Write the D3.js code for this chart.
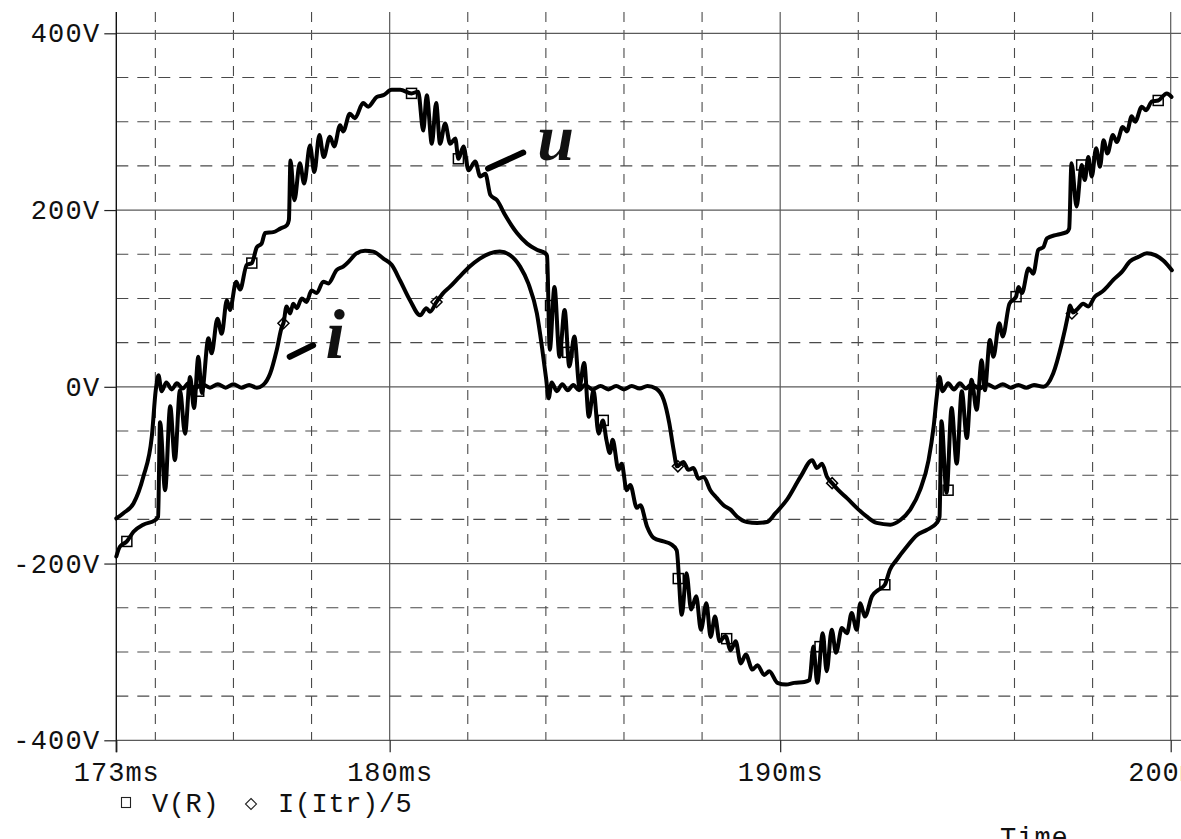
<!DOCTYPE html>
<html>
<head>
<meta charset="utf-8">
<script src="https://cdn.jsdelivr.net/npm/d3@7"></script>
<style>
  html, body { margin: 0; padding: 0; background: #fff; }
  svg { display: block; }
  text { font-family: "Liberation Mono", "DejaVu Sans Mono", monospace; fill: #111; }
</style>
</head>
<body>
<svg id="chart" width="1181" height="839"></svg>
<script>
// Transient simulation: resistor voltage and scaled thyristor current (t in ms)
const vR = [
  [173.00,-192],[173.09,-181],[173.27,-175],[173.44,-164],[173.69,-156],[173.99,-151],[174.07,-147],
  [174.12,-40],[174.25,-117],[174.38,-22],[174.50,-83],[174.63,-4],[174.76,-53],[174.89,11],
  [174.99,-24],[175.10,34],[175.19,-7],[175.36,55],[175.44,38],[175.59,77],[175.70,60],[175.83,98],
  [175.91,87],[176.07,119],[176.17,110],[176.34,138],[176.47,140],[176.60,158],[176.72,162],
  [176.81,174],[177.02,175],[177.20,179],[177.37,183],[177.42,189],
  [177.46,256],[177.56,211],[177.70,253],[177.81,230],[177.96,273],[178.07,243],[178.20,285],
  [178.31,260],[178.47,283],[178.58,272],[178.73,296],[178.81,289],[178.98,309],[179.11,304],
  [179.32,321],[179.45,317],[179.67,328],[179.84,330],[180.05,336],[180.27,336],[180.56,332],
  [180.73,334],[180.86,290],[180.95,330],[181.08,275],[181.19,321],[181.29,275],[181.42,298],
  [181.55,275],[181.68,281],[181.76,258],[181.89,272],[182.02,245],[182.19,255],[182.32,238],
  [182.45,241],[182.58,217],[182.75,211],[182.96,194],[183.26,174],[183.52,162],[183.77,155],
  [183.99,151],[184.03,148],
  [184.10,42],[184.22,113],[184.35,34],[184.48,87],[184.60,23],[184.73,57],[184.86,0],[184.98,27],
  [185.10,-34],[185.22,-4],[185.35,-53],[185.46,-38],[185.55,-60],[185.64,-75],[185.71,-60],
  [185.86,-94],[185.94,-87],[186.07,-117],[186.16,-111],[186.33,-137],[186.42,-134],[186.59,-158],
  [186.76,-171],[187.01,-175],[187.20,-178],[187.35,-185],
  [187.48,-258],[187.60,-211],[187.72,-252],[187.85,-237],[187.97,-275],[188.11,-245],[188.22,-283],
  [188.33,-260],[188.45,-288],[188.60,-282],[188.73,-298],[188.86,-288],[188.99,-313],[189.12,-303],
  [189.29,-320],[189.42,-315],[189.59,-326],[189.72,-322],[189.93,-335],[190.15,-337],[190.36,-335],
  [190.62,-334],[190.75,-332],[190.85,-294],[190.95,-335],[191.09,-279],[191.19,-322],[191.32,-275],
  [191.43,-301],[191.58,-273],[191.71,-279],[191.83,-256],[191.96,-275],[192.05,-245],[192.17,-260],
  [192.35,-237],[192.51,-230],[192.68,-224],[192.81,-207],[192.98,-196],[193.24,-181],[193.50,-168],
  [193.75,-162],[194.01,-154],[194.08,-147],
  [194.13,-39],[194.26,-120],[194.39,-24],[194.52,-87],[194.65,-5],[194.78,-58],[194.90,8],
  [195.03,-26],[195.16,30],[195.24,-4],[195.37,53],[195.46,34],[195.61,72],[195.70,57],[195.87,94],
  [196.04,102],[196.10,113],[196.19,106],[196.36,134],[196.48,128],[196.61,155],[196.74,158],
  [196.83,168],[197.08,172],[197.34,175],[197.40,179],
  [197.46,253],[197.59,204],[197.72,251],[197.80,234],[197.89,260],[197.98,238],[198.09,270],
  [198.19,249],[198.28,279],[198.38,264],[198.52,285],[198.62,277],[198.77,294],[198.88,289],
  [199.00,306],[199.09,300],[199.26,317],[199.37,313],[199.52,323],[199.68,324],[199.90,332],
  [200.02,328]
];

const iItr = [
  [173.00,-149],[173.18,-143],[173.44,-132],[173.69,-102],[173.91,-56],[174.01,-4],[174.08,13],
  [174.16,-5],[174.28,5],[174.42,-3],[174.55,4],[174.70,-2],[174.85,4],[175.00,-2],[175.20,3],
  [175.40,-1],[175.60,3],[175.80,-1],[176.00,3],[176.20,-1],[176.40,2],[176.60,-1],[176.76,2],
  [176.94,15],[177.11,42],[177.24,68],[177.28,72],[177.36,91],[177.45,83],[177.53,94],[177.62,89],
  [177.75,100],[177.87,96],[178.00,109],[178.13,106],[178.30,119],[178.43,117],[178.64,132],
  [178.81,136],[178.98,143],[179.15,151],[179.37,154],[179.58,153],[179.84,145],[180.05,138],
  [180.27,120],[180.52,98],[180.78,81],[180.94,89],[181.03,85],[181.20,96],[181.37,106],
  [181.54,113],[181.80,125],[182.05,136],[182.31,145],[182.57,151],[182.82,153],[183.08,149],
  [183.34,136],[183.55,117],[183.77,83],[183.90,45],[184.01,8],[184.07,-13],
  [184.15,5],[184.28,-5],[184.42,3],[184.56,-4],[184.70,2],[184.85,-4],[185.00,2],[185.20,-3],
  [185.40,1],[185.60,-3],[185.80,1],[186.00,-3],[186.20,1],[186.40,-2],[186.60,1],[186.82,-2],
  [187.02,-15],[187.16,-41],[187.27,-71],[187.36,-90],[187.52,-85],[187.65,-94],[187.78,-92],
  [187.91,-104],[188.04,-102],[188.21,-117],[188.38,-126],[188.55,-134],[188.73,-139],[188.90,-147],
  [189.15,-153],[189.41,-154],[189.66,-153],[189.88,-143],[190.17,-128],[190.52,-102],[190.82,-83],
  [190.94,-92],[191.07,-87],[191.20,-102],[191.33,-109],[191.49,-117],[191.71,-126],[191.96,-137],
  [192.22,-147],[192.47,-154],[192.82,-156],[193.07,-151],[193.33,-139],[193.58,-117],[193.80,-83],
  [193.93,-45],[194.01,-11],[194.08,11],
  [194.16,-5],[194.30,4],[194.45,-3],[194.60,4],[194.75,-2],[194.90,3],[195.10,-2],[195.30,3],
  [195.50,-1],[195.70,3],[195.90,-1],[196.10,2],[196.30,-1],[196.50,2],[196.74,0],
  [196.99,15],[197.21,49],[197.38,83],[197.42,92],[197.50,84],[197.59,87],[197.76,94],[197.89,91],
  [198.06,102],[198.19,106],[198.28,109],[198.53,121],[198.75,130],[198.96,142],[199.17,147],
  [199.39,151],[199.60,149],[199.81,143],[200.03,132]
];

// Trace symbols placed along each waveform
const vRMarkers = [
  [173.27,-175],[175.11,-5],[176.47,140],[180.56,332],[181.76,258],[184.12,92],[184.56,39],
  [185.47,-38],[187.39,-217],[188.63,-285],[191.02,-294],[192.68,-224],[194.30,-117],
  [196.04,102],[197.72,251],[199.68,324]
];
const iItrMarkers = [
  [177.28,72],[181.20,96],[187.38,-90],[191.33,-109],[197.47,83]
];

// Axis ticks and grid
const xMajorTicks = [173, 180, 190, 200];
const xMinorGrid = [174, 176, 178, 182, 184, 186, 188, 192, 194, 196, 198];
const yMajorTicks = [-400, -200, 0, 200, 400];
const yMinorGrid = [-350, -300, -250, -150, -100, -50, 50, 100, 150, 250, 300, 350];

const legendItems = [
  { label: "V(R)", symbol: "square" },
  { label: "I(Itr)/5", symbol: "diamond" }
];

const svg = d3.select("#chart");
const x = d3.scaleLinear().domain([173, 200]).range([116.3, 1170.7]);
const y = d3.scaleLinear().domain([-400, 400]).range([740.3, 33.3]);
const plotTop = 12;
const plotBottom = y(-400);
const plotRight = 1181;

// Grid
const grid = svg.append("g");
grid.selectAll(".hmin").data(yMinorGrid).join("line")
  .attr("x1", x(173)).attr("x2", plotRight)
  .attr("y1", d => y(d)).attr("y2", d => y(d))
  .attr("stroke", "#4a4a4a").attr("stroke-width", 1.1).attr("stroke-dasharray", "12,9");
grid.selectAll(".vmin").data(xMinorGrid).join("line")
  .attr("x1", d => x(d)).attr("x2", d => x(d))
  .attr("y1", plotTop).attr("y2", plotBottom)
  .attr("stroke", "#4a4a4a").attr("stroke-width", 1.1).attr("stroke-dasharray", "10,8");
grid.selectAll(".hmaj").data(yMajorTicks).join("line")
  .attr("x1", x(173)).attr("x2", plotRight)
  .attr("y1", d => y(d)).attr("y2", d => y(d))
  .attr("stroke", "#5a5a5a").attr("stroke-width", 1.2);
grid.selectAll(".vmaj").data(xMajorTicks.slice(1)).join("line")
  .attr("x1", d => x(d)).attr("x2", d => x(d))
  .attr("y1", plotTop).attr("y2", plotBottom)
  .attr("stroke", "#5a5a5a").attr("stroke-width", 1.2);

// Left axis line
svg.append("line")
  .attr("x1", x(173)).attr("x2", x(173))
  .attr("y1", plotTop).attr("y2", plotBottom + 12)
  .attr("stroke", "#111").attr("stroke-width", 1.4);

// Y axis
const yAxis = svg.append("g")
  .attr("transform", `translate(${x(173)},0)`)
  .call(d3.axisLeft(y).tickValues(yMajorTicks).tickSize(12).tickPadding(4)
    .tickFormat(d => d + "V"));
yAxis.select(".domain").remove();
yAxis.selectAll(".tick line").attr("stroke", "#222").attr("stroke-width", 1.2);
yAxis.selectAll(".tick text")
  .style("font-family", "Liberation Mono").attr("font-size", 27)
  .attr("letter-spacing", 1.2).attr("fill", "#111");

// X axis
const xAxis = svg.append("g")
  .attr("transform", `translate(0,${plotBottom})`)
  .call(d3.axisBottom(x).tickValues(xMajorTicks).tickSize(12)
    .tickFormat(d => d + "ms"));
xAxis.select(".domain").remove();
xAxis.selectAll(".tick line").attr("stroke", "#222").attr("stroke-width", 1.2);
xAxis.selectAll(".tick text")
  .style("font-family", "Liberation Mono").attr("font-size", 27)
  .attr("letter-spacing", 1).attr("fill", "#111")
  .attr("y", 41).attr("dy", 0);

// Waveforms
const line = d3.line()
  .x(d => x(d[0])).y(d => y(d[1]))
  .curve(d3.curveMonotoneX);
const traces = svg.append("g").attr("fill", "none").attr("stroke", "#000")
  .attr("stroke-width", 4).attr("stroke-linejoin", "round").attr("stroke-linecap", "round");
traces.append("path").attr("d", line(iItr));
traces.append("path").attr("d", line(vR));

// Trace symbols
const sq = 10;
svg.append("g").selectAll("rect").data(vRMarkers).join("rect")
  .attr("x", d => x(d[0]) - sq / 2).attr("y", d => y(d[1]) - sq / 2)
  .attr("width", sq).attr("height", sq)
  .attr("fill", "none").attr("stroke", "#000").attr("stroke-width", 1.5);
const diamond = (cx, cy, r) => `M${cx},${cy - r}L${cx + r},${cy}L${cx},${cy + r}L${cx - r},${cy}Z`;
svg.append("g").selectAll("path").data(iItrMarkers).join("path")
  .attr("d", d => diamond(x(d[0]), y(d[1]), 5.5))
  .attr("fill", "none").attr("stroke", "#000").attr("stroke-width", 1.5);

// Hand-written trace labels
const hand = svg.append("g");
hand.append("line")
  .attr("x1", x(182.52)).attr("y1", y(247)).attr("x2", x(183.42)).attr("y2", y(265))
  .attr("stroke", "#000").attr("stroke-width", 6).attr("stroke-linecap", "round");
hand.append("text").text("u")
  .attr("x", x(183.78)).attr("y", y(257))
  .style("font-family", "Liberation Serif").style("font-style", "italic").style("font-weight", "bold")
  .attr("font-size", 66).attr("fill", "#000");
hand.append("line")
  .attr("x1", x(177.44)).attr("y1", y(34)).attr("x2", x(178.04)).attr("y2", y(47))
  .attr("stroke", "#000").attr("stroke-width", 6).attr("stroke-linecap", "round");
hand.append("text").text("i")
  .attr("x", x(178.36)).attr("y", y(33))
  .style("font-family", "Liberation Serif").style("font-style", "italic").style("font-weight", "bold")
  .attr("font-size", 70).attr("fill", "#000");

// Legend
const legend = svg.append("g").attr("transform", "translate(0,812)");
const lx = [126, 251];
const tx = [152, 278];
legendItems.forEach((item, i) => {
  if (item.symbol === "square") {
    legend.append("rect").attr("x", lx[i] - 4.5).attr("y", -14.5).attr("width", 9).attr("height", 10)
      .attr("fill", "none").attr("stroke", "#222").attr("stroke-width", 1.1);
  } else {
    legend.append("path").attr("d", diamond(lx[i], -8, 5.5))
      .attr("fill", "none").attr("stroke", "#222").attr("stroke-width", 1.1);
  }
  legend.append("text").text(item.label).attr("x", tx[i]).attr("y", 0)
    .attr("font-size", 27).attr("letter-spacing", 0.6);
});

// Horizontal axis title
svg.append("text").text("Time").attr("x", 1000).attr("y", 846)
  .attr("font-size", 27).attr("letter-spacing", 1);
</script>
</body>
</html>
